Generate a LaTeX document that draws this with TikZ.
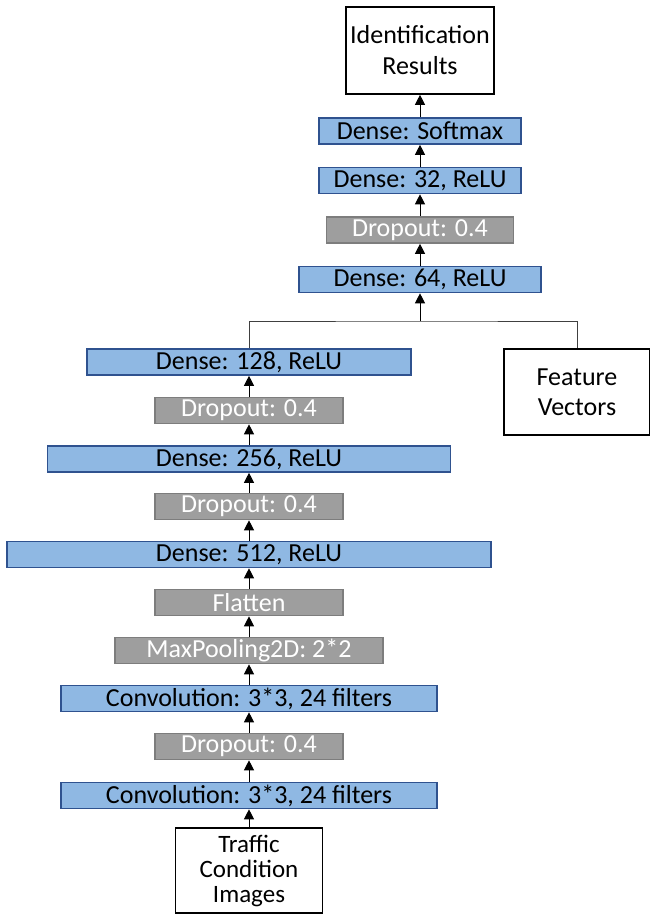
\documentclass[tikz,border=0pt]{standalone}
\usepackage{fontspec}
\setmainfont{Carlito}
\usetikzlibrary{arrows.meta}

\definecolor{layerblue}{RGB}{143,184,227}
\definecolor{layeredge}{RGB}{47,82,143}
\definecolor{dropgray}{RGB}{158,158,158}
\definecolor{dropedge}{RGB}{125,125,125}

\tikzset{
	dense/.style={draw=layeredge, fill=layerblue, line width=1.6pt, minimum height=26pt, inner sep=0pt, font=\fontsize{26}{30}\selectfont},
	drop/.style={draw=dropedge, fill=dropgray, text=white, line width=1.6pt, minimum height=26pt, inner sep=0pt, font=\fontsize{26}{30}\selectfont},
	iobox/.style={draw=black, fill=white, line width=1.6pt, align=center, inner sep=0pt, font=\fontsize{26}{30}\selectfont},
	arr/.style={-{Triangle[width=10pt,length=10pt]}, line width=1pt}
}

\begin{document}
\begin{tikzpicture}[x=1pt,y=-1pt]
		\useasboundingbox (0,0) rectangle (649,919);
		%\draw [help lines, step=50] (0,0) grid (649,919);
		% upper column
		\node[iobox, minimum width=148pt, minimum height=87pt] (res) at (420,50.5) {Identification\\[1pt]Results};
		\node[dense, minimum width=202pt] (soft) at (420,131) {Dense: Softmax};
		\node[dense, minimum width=202pt] (d32) at (420,180.5) {Dense: 32, ReLU};
		\node[drop, minimum width=187pt] (dropD) at (420,230) {Dropout: 0.4};
		\node[dense, minimum width=242pt] (d64) at (420,279.5) {Dense: 64, ReLU};
		% feature vectors
		\node[iobox, minimum width=146pt, minimum height=86pt] (feat) at (577,392) {Feature\\Vectors};
		% lower column
		\node[dense, minimum width=324pt] (d128) at (249,362) {Dense: 128, ReLU};
		\node[drop, minimum width=188pt] (dropC) at (249,410.5) {Dropout: 0.4};
		\node[dense, minimum width=403pt] (d256) at (249,459) {Dense: 256, ReLU};
		\node[drop, minimum width=188pt] (dropB) at (249,506.5) {Dropout: 0.4};
		\node[dense, minimum width=484pt] (d512) at (249,554.5) {Dense: 512, ReLU};
		\node[drop, minimum width=188pt] (flat) at (249,602.5) {Flatten};
		\node[drop, minimum width=268pt] (pool) at (249,650.5) {MaxPooling2D: 2*2};
		\node[dense, minimum width=376pt] (conv2) at (249,698.5) {Convolution: 3*3, 24 filters};
		\node[drop, minimum width=188pt] (dropA) at (249,746.5) {Dropout: 0.4};
		\node[dense, minimum width=376pt] (conv1) at (249,795.5) {Convolution: 3*3, 24 filters};
		\node[iobox, minimum width=147pt, minimum height=85pt, font=\fontsize{25}{25}\selectfont] (img) at (249,870.5) {Traffic\\Condition\\Images};

		\draw[arr] (img) -- (conv1);
		\draw[arr] (conv1) -- (dropA);
		\draw[arr] (dropA) -- (conv2);
		\draw[arr] (conv2) -- (pool);
		\draw[arr] (pool) -- (flat);
		\draw[arr] (flat) -- (d512);
		\draw[arr] (d512) -- (dropB);
		\draw[arr] (dropB) -- (d256);
		\draw[arr] (d256) -- (dropC);
		\draw[arr] (dropC) -- (d128);

		% merge
		\coordinate (jn) at (420,321);
		\draw[line width=1pt, black!75] (d128.north) |- (jn) -| (feat.north);
		\draw[arr] (jn) -- (d64.south);

		\draw[arr] (d64) -- (dropD);
		\draw[arr] (dropD) -- (d32);
		\draw[arr] (d32) -- (soft);
		\draw[arr] (soft) -- (res);
	\end{tikzpicture}
\end{document}
